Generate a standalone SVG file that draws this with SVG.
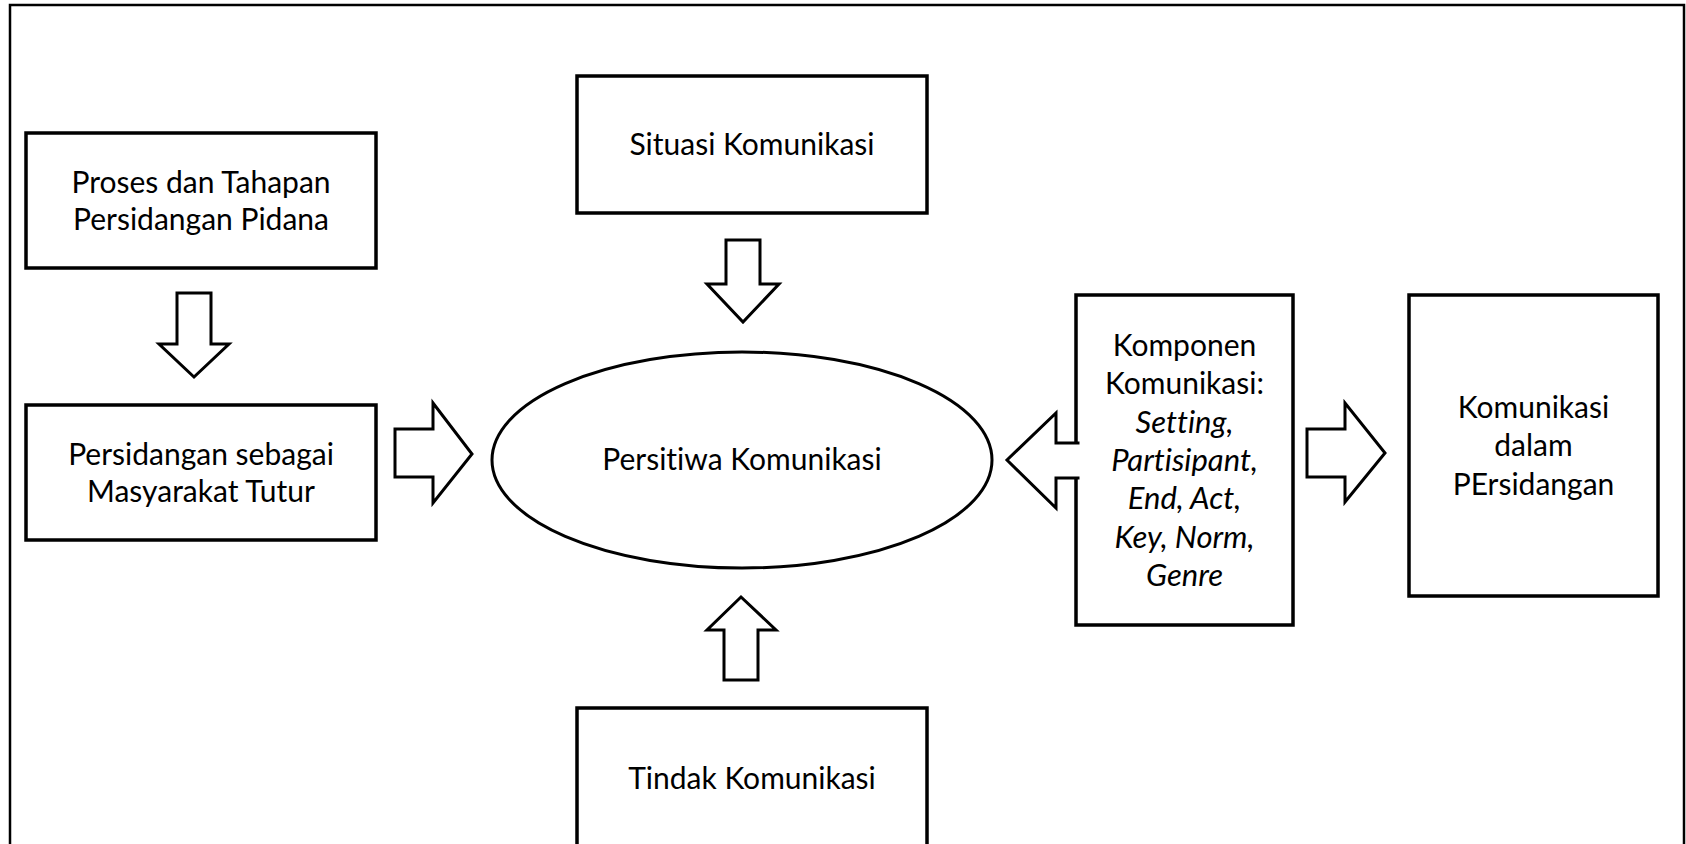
<svg xmlns="http://www.w3.org/2000/svg" width="1686" height="844" viewBox="0 0 1686 844">
<style>
.box{fill:#fff;stroke:#000;stroke-width:3.5}
.arr{fill:#fff;stroke:#000;stroke-width:3;stroke-linejoin:miter}
.t{font-family:Lato,"Liberation Sans",sans-serif;font-size:30px;fill:#000;text-anchor:middle;font-variant-ligatures:none;font-feature-settings:"liga" 0,"dlig" 0}
.i{font-style:italic;font-size:31px}
</style>
<rect x="0" y="0" width="1686" height="844" fill="#fff"/>
<rect id="frame" x="10" y="5" width="1674" height="900" fill="none" stroke="#000" stroke-width="2.5"/>
<g id="n1"><rect class="box" x="26" y="133" width="350" height="135"/>
<text class="t" x="201" y="193">Proses dan Tahapan</text><text class="t" x="201" y="230">Persidangan Pidana</text></g>
<g id="n2"><rect class="box" x="26" y="405" width="350" height="135"/>
<text class="t" x="201" y="465">Persidangan sebagai</text><text class="t" x="201" y="502">Masyarakat Tutur</text></g>
<g id="n3"><rect class="box" x="577" y="76" width="350" height="137"/>
<text class="t" x="752" y="155">Situasi Komunikasi</text></g>
<g id="n4"><ellipse class="box" cx="742" cy="460" rx="250" ry="108" style="stroke-width:3"/>
<text class="t" x="742" y="470">Persitiwa Komunikasi</text></g>
<g id="n5"><rect class="box" x="577" y="708" width="350" height="200"/>
<text class="t" x="752" y="789">Tindak Komunikasi</text></g>
<g id="n6"><rect class="box" x="1076" y="295" width="217" height="330"/>
<text class="t" x="1184.5" y="356">Komponen</text>
<text class="t" x="1184.5" y="394">Komunikasi:</text>
<text class="t i" x="1184.5" y="433">Setting,</text>
<text class="t i" x="1184.5" y="471">Partisipant,</text>
<text class="t i" x="1184.5" y="509">End, Act,</text>
<text class="t i" x="1184.5" y="548">Key, Norm,</text>
<text class="t i" x="1184.5" y="586">Genre</text></g>
<g id="n7"><rect class="box" x="1409" y="295" width="249" height="301"/>
<text class="t" x="1533.5" y="418">Komunikasi</text>
<text class="t" x="1533.5" y="456">dalam</text>
<text class="t" x="1533.5" y="495">PErsidangan</text></g>
<g id="connectors">
<polygon class="arr" points="177,293 211,293 211,344 229,344 194,377 159,344 177,344"/>
<polygon class="arr" points="726,240 760,240 760,284 779,284 743,322 707,284 726,284"/>
<polygon class="arr" points="724,680 758,680 758,630 776,630 741,597 707,630 724,630"/>
<polygon class="arr" points="395,429 433,429 433,403 472,454 433,503 433,477 395,477"/>
<polygon class="arr" points="1307,429 1345,429 1345,403 1385,453 1345,502 1345,477 1307,477"/>
<path class="arr" d="M1079.5,443 L1056,443 L1056,413 L1007,460 L1056,508 L1056,478 L1079.5,478"/>
</g>
</svg>
